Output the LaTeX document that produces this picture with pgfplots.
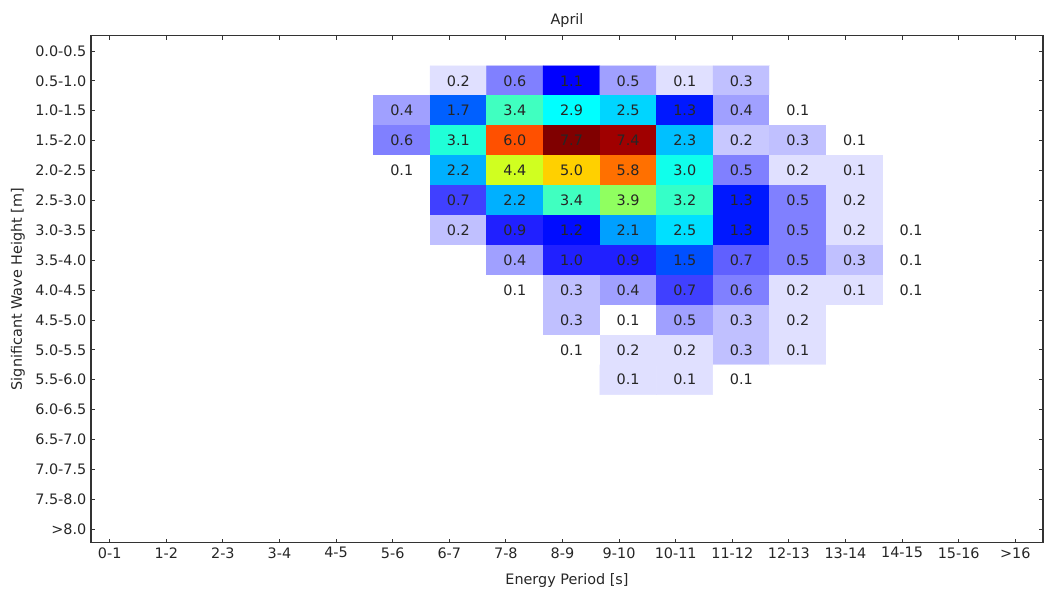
\documentclass[border=0pt]{standalone}
\usepackage{fontspec}
\setmainfont{DejaVu Sans}
\usepackage{pgfplots}
\usepackage{pgfplotstable}
\pgfplotsset{compat=1.18}
\pgfplotstableread{
x y c v
5 1 0 0
6 1 0.1 0.2
7 1 0.6 0.6
8 1 1.1 1.1
9 1 0.4 0.5
10 1 0.1 0.1
11 1 0.3 0.3
12 1 0 0
13 1 0 0
14 1 0 0
5 2 0.4 0.4
6 2 1.7 1.7
7 2 3.4 3.4
8 2 2.9 2.9
9 2 2.45 2.5
10 2 1.3 1.3
11 2 0.4 0.4
12 2 0 0.1
13 2 0 0
14 2 0 0
5 3 0.6 0.6
6 3 3.1 3.1
7 3 6.0 6.0
8 3 7.7 7.7
9 3 7.4 7.4
10 3 2.3 2.3
11 3 0.25 0.2
12 3 0.3 0.3
13 3 0 0.1
14 3 0 0
5 4 0 0.1
6 4 2.2 2.2
7 4 4.4 4.4
8 4 5.0 5.0
9 4 5.8 5.8
10 4 3.0 3.0
11 4 0.6 0.5
12 4 0.1 0.2
13 4 0.1 0.1
14 4 0 0
5 5 0 0
6 5 0.8 0.7
7 5 2.2 2.2
8 5 3.4 3.4
9 5 3.9 3.9
10 5 3.3 3.2
11 5 1.3 1.3
12 5 0.6 0.5
13 5 0.1 0.2
14 5 0 0
5 6 0 0
6 6 0.3 0.2
7 6 0.9 0.9
8 6 1.2 1.2
9 6 2.1 2.1
10 6 2.55 2.5
11 6 1.3 1.3
12 6 0.6 0.5
13 6 0.1 0.2
14 6 0 0.1
5 7 0 0
6 7 0 0
7 7 0.4 0.4
8 7 0.9 1.0
9 7 0.9 0.9
10 7 1.5 1.5
11 7 0.7 0.7
12 7 0.6 0.5
13 7 0.3 0.3
14 7 0 0.1
5 8 0 0
6 8 0 0
7 8 0 0.1
8 8 0.3 0.3
9 8 0.4 0.4
10 8 0.8 0.7
11 8 0.6 0.6
12 8 0.1 0.2
13 8 0.1 0.1
14 8 0 0.1
5 9 0 0
6 9 0 0
7 9 0 0
8 9 0.3 0.3
9 9 0 0.1
10 9 0.4 0.5
11 9 0.3 0.3
12 9 0.1 0.2
13 9 0 0
14 9 0 0
5 10 0 0
6 10 0 0
7 10 0 0
8 10 0 0.1
9 10 0.1 0.2
10 10 0.1 0.2
11 10 0.3 0.3
12 10 0.1 0.1
13 10 0 0
14 10 0 0
5 11 0 0
6 11 0 0
7 11 0 0
8 11 0 0
9 11 0.1 0.1
10 11 0.1 0.1
11 11 0 0.1
12 11 0 0
13 11 0 0
14 11 0 0
}\wavedata

\begin{document}
\begin{tikzpicture}[font=\fontsize{10.8}{12.5}\selectfont]
\useasboundingbox (-68.25pt,-36.2pt) rectangle (714.75pt,407pt);
\begin{axis}[
  at={(0pt,0pt)}, anchor=south west,
  scale only axis, width=714pt, height=380.25pt,
  xmin=-0.33, xmax=16.49, ymin=-0.51, ymax=16.45, y dir=reverse,
  xtick={0,...,16},
  xticklabels={0-1,1-2,2-3,3-4,4-5,5-6,6-7,7-8,8-9,9-10,10-11,11-12,12-13,13-14,14-15,15-16,>16},
  ytick={0,...,16},
  yticklabels={0.0-0.5,0.5-1.0,1.0-1.5,1.5-2.0,2.0-2.5,2.5-3.0,3.0-3.5,3.5-4.0,4.0-4.5,4.5-5.0,5.0-5.5,5.5-6.0,6.0-6.5,6.5-7.0,7.0-7.5,7.5-8.0,>8.0},
  tick align=inside, major tick length=3pt,
  axis line style={line width=0.8pt, black!80},
  tick style={black!80, line width=0.6pt},
  tick label style={text=black!85},
  every axis title shift=0pt,
  title={April},
  title style={at={(axis description cs:0.5,1.023)}, anchor=base, text=black!85},
  xlabel={Energy Period [s]},
  xlabel style={at={(axis description cs:0.5,-0.083)}, anchor=base, text=black!85},
  ylabel={Significant Wave Height [m]},
  ylabel style={at={(axis description cs:-0.0767,0.5)}, anchor=center, text=black!85},
  colormap={wave}{
    rgb255(0cm)=(255,255,255)
    rgb255(0.1cm)=(224,224,255)
    rgb255(0.2cm)=(208,208,255)
    rgb255(0.3cm)=(192,192,255)
    rgb255(0.4cm)=(160,160,255)
    rgb255(0.6cm)=(128,128,255)
    rgb255(0.7cm)=(96,96,255)
    rgb255(0.8cm)=(64,64,255)
    rgb255(0.9cm)=(32,32,255)
    rgb255(1.1cm)=(0,0,255)
    rgb255(1.3cm)=(0,24,255)
    rgb255(1.5cm)=(0,80,255)
    rgb255(1.7cm)=(0,96,255)
    rgb255(2.1cm)=(0,160,255)
    rgb255(2.3cm)=(0,192,255)
    rgb255(2.5cm)=(0,220,255)
    rgb255(2.9cm)=(0,255,255)
    rgb255(3.1cm)=(32,255,216)
    rgb255(3.4cm)=(64,255,192)
    rgb255(3.9cm)=(144,255,96)
    rgb255(4.4cm)=(208,255,32)
    rgb255(5.0cm)=(255,208,0)
    rgb255(5.8cm)=(255,112,0)
    rgb255(6.0cm)=(255,80,0)
    rgb255(7.4cm)=(160,0,0)
    rgb255(7.7cm)=(128,0,0)
  },
  point meta min=0, point meta max=7.7,
  axis on top,
]
\addplot[matrix plot*, mesh/cols=10, mesh/rows=11,
  point meta=\thisrow{c},
  visualization depends on={\thisrow{v}\as\lab},
  nodes near coords={\pgfmathparse{\lab>0.01}\ifnum\pgfmathresult>0 \pgfmathprintnumber[fixed,fixed zerofill,precision=1,assume math mode=true]{\lab}\fi},
  nodes near coords style={anchor=center, text=black!85}]
  table[x expr=\thisrow{x}+0.16, y=y]{\wavedata};
\end{axis}
\end{tikzpicture}
\end{document}
